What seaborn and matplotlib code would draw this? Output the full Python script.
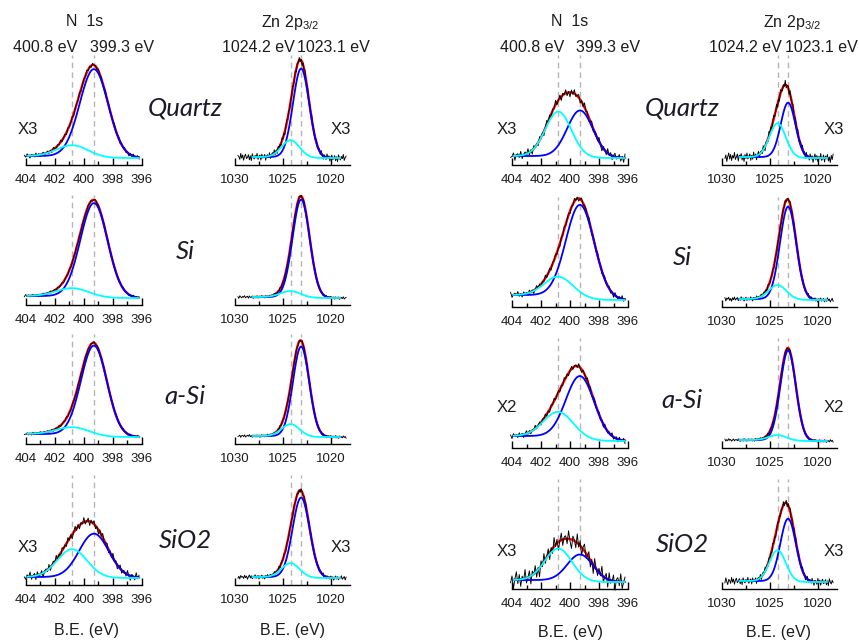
import numpy as np
import pandas as pd
import matplotlib
matplotlib.use("Agg")
import matplotlib.pyplot as plt
import matplotlib.ticker as mticker
import seaborn as sns

sns.set_theme(style="white")
plt.rcParams["font.family"] = ["Liberation Sans", "DejaVu Sans"]
plt.rcParams["mathtext.default"] = "regular"

# ---------------- data ----------------
samples = ["Quartz", "Si", "a-Si", "SiO2"]
n1s_centers = [400.8, 399.3]          # cyan, blue
zn_centers = [1024.2, 1023.1]         # cyan, blue
n1s_ticks = [404, 402, 400, 398, 396]
zn_ticks = [1030, 1025, 1020]

# block A (left)
nA_cyan_h = [11, 8, 7, 28]
nA_blue_h = [88, 94, 90, 44]
nA_cyan_w = [2.5, 2.6, 2.6, 2.4]
nA_blue_w = [2.3, 2.2, 2.1, 2.4]
nA_step = [2, 2, 3, 1]
nA_noise = [2.5, 1.5, 1.5, 5.0]
zA_cyan_h = [17, 6, 12, 14]
zA_blue_h = [89, 98, 90, 80]
zA_cyan_w = [2.2, 2.5, 2.2, 2.2]
zA_blue_w = [2.0, 2.1, 2.0, 2.1]
zA_noise = [4.0, 1.5, 1.5, 2.5]
mult_A_n = ["X3", "", "", "X3"]
mult_A_z = ["X3", "", "", "X3"]

# block B (right)
nB_cyan_h = [45, 19, 25, 32]
nB_blue_h = [47, 93, 63, 27]
nB_cyan_w = [2.1, 2.3, 2.4, 2.2]
nB_blue_w = [2.1, 2.3, 2.3, 2.1]
nB_step = [2, 5, 5, 2]
nB_noise = [5.0, 3.5, 3.5, 10.0]
zB_cyan_h = [34, 14, 5, 31]
zB_blue_h = [55, 93, 90, 63]
zB_cyan_w = [2.0, 2.2, 2.2, 2.0]
zB_blue_w = [1.8, 2.0, 1.9, 1.9]
zB_noise = [5.0, 2.5, 1.5, 4.0]
mult_B_n = ["X3", "", "X2", "X3"]
mult_B_z = ["X3", "", "X2", "X3"]

# measured residuals (typed, shared across panels)
RES = [0.3, -0.5, 0.8, -0.2, -0.9, 0.4, 0.1, -0.6, 0.9, -0.3, 0.5, -0.8, 0.2, 0.7, -0.4,
       -0.1, 0.6, -0.7, 0.3, -0.9, 0.8, 0.0, -0.5, 0.4, -0.2, 0.9, -0.6, 0.1, 0.5, -0.8,
       0.7, -0.3, -0.1, 0.6, -0.9, 0.2, 0.4, -0.4, 0.8, -0.7, 0.0, 0.5, -0.2, 0.9, -0.5,
       0.3, -0.8, 0.6, -0.1, 0.2, -0.6, 0.7, -0.3, 0.4, -0.9, 0.1, 0.8, -0.4, 0.5, -0.7,
       0.3, -0.2, 0.9, -0.5, 0.0, 0.6, -0.8, 0.4, -0.1, 0.7, -0.6, 0.2, -0.9, 0.5, -0.3,
       0.8, -0.4, 0.1, 0.6, -0.7, 0.3, -0.5, 0.9, -0.2, 0.4, -0.8, 0.0, 0.7, -0.6, 0.2]

# ---------------- layout ----------------
W, H = 859, 641
fig = plt.figure(figsize=(W / 100, H / 100), dpi=100)
TXT = "#1c1c1c"


def fx(px):
    return px / W


def fy(py):
    return 1 - py / H


def gauss(x, c, h, w):
    return h * np.exp(-4 * np.log(2) * ((x - c) / w) ** 2)


def draw_panel(ax, kind, heights, widths, step, noise, off):
    if kind == "n":
        xd = np.round(np.arange(404.1, 396.15, -0.1), 2)
        fit_lo, fit_hi = 396.0, 403.9
        centers = n1s_centers
        ax.set_xlim(404, 396)
        ax.set_xticks(n1s_ticks)
        ax.xaxis.set_minor_locator(mticker.MultipleLocator(1))
    else:
        xd = np.round(np.arange(1029.7, 1018.35, -0.1), 2)
        fit_lo, fit_hi = 1019.0, 1028.2
        centers = zn_centers
        ax.set_xlim(1030, 1018)
        ax.set_xticks(zn_ticks)
        ax.xaxis.set_minor_locator(mticker.MultipleLocator(2.5))
    g1 = gauss(xd, centers[0], heights[0], widths[0])
    g2 = gauss(xd, centers[1], heights[1], widths[1])
    tot = g1 + g2
    cum = np.cumsum(tot[::-1])[::-1]
    bg = step * cum / cum.max()
    res = np.array([RES[(off + i) % len(RES)] for i in range(len(xd))])
    data = bg + tot + noise * res
    m = (xd >= fit_lo) & (xd <= fit_hi)
    df = pd.DataFrame({"x": xd, "data": data, "fit": bg + tot,
                       "cyan": bg + g1, "blue": bg + g2})
    dff = df[m]
    for c in centers:
        ax.axvline(c, color="#b5b5b5", lw=1.0, ls=(0, (4, 3)), zorder=0)
    sns.lineplot(data=dff, x="x", y="fit", ax=ax, color="#ff0000", lw=1.7,
                 estimator=None, sort=False, zorder=2)
    sns.lineplot(data=df, x="x", y="data", ax=ax, color="black", lw=0.65,
                 estimator=None, sort=False, zorder=3)
    sns.lineplot(data=dff, x="x", y="blue", ax=ax, color="#0000ff", lw=1.3,
                 estimator=None, sort=False, zorder=4)
    sns.lineplot(data=dff, x="x", y="cyan", ax=ax, color="#00ffff", lw=1.3,
                 estimator=None, sort=False, zorder=4)
    for ln in ax.lines:
        ln.set_clip_on(False)
    ax.set_ylim(-7, 103)
    ax.set_yticks([])
    ax.set_xlabel("")
    ax.set_ylabel("")
    for s in ["left", "right", "top"]:
        ax.spines[s].set_visible(False)
    ax.spines["bottom"].set_color("black")
    ax.spines["bottom"].set_linewidth(1.0)
    ax.patch.set_alpha(0)
    ax.tick_params(axis="x", which="major", direction="in", length=5, width=1,
                   color="black", labelsize=9.5, pad=6.5, bottom=True, labelcolor=TXT)
    ax.tick_params(axis="x", which="minor", direction="in", length=3, width=1,
                   color="black", bottom=True)


blocks = [
    dict(nx=(25.7, 142), zx=(235, 350), axis_y=[165, 305, 444, 585],
         nch=nA_cyan_h, nbh=nA_blue_h, ncw=nA_cyan_w, nbw=nA_blue_w, nst=nA_step,
         nno=nA_noise, zch=zA_cyan_h, zbh=zA_blue_h, zcw=zA_cyan_w, zbw=zA_blue_w,
         zno=zA_noise),
    dict(nx=(512, 628), zx=(722, 837), axis_y=[165, 307, 448, 589],
         nch=nB_cyan_h, nbh=nB_blue_h, ncw=nB_cyan_w, nbw=nB_blue_w, nst=nB_step,
         nno=nB_noise, zch=zB_cyan_h, zbh=zB_blue_h, zcw=zB_cyan_w, zbw=zB_blue_w,
         zno=zB_noise),
]

AX_H = 110
for bi, b in enumerate(blocks):
    for r in range(4):
        ay = b["axis_y"][r]
        axn = fig.add_axes([fx(b["nx"][0]), fy(ay), fx(b["nx"][1] - b["nx"][0]), AX_H / H])
        draw_panel(axn, "n", (b["nch"][r], b["nbh"][r]), (b["ncw"][r], b["nbw"][r]),
                   b["nst"][r], b["nno"][r], off=7 * r + 31 * bi)
        axz = fig.add_axes([fx(b["zx"][0]), fy(ay), fx(b["zx"][1] - b["zx"][0]), AX_H / H])
        draw_panel(axz, "z", (b["zch"][r], b["zbh"][r]), (b["zcw"][r], b["zbw"][r]),
                   1, b["zno"][r], off=13 * r + 47 * bi + 5)

# ---------------- texts ----------------
hdr = 11.5
for ncx, zcx in [(85, 290), (570, 792)]:
    fig.text(fx(ncx), fy(22), "N  1s", ha="center", va="center", fontsize=hdr, color=TXT)
    fig.text(fx(zcx), fy(22), "Zn 2p$_{3/2}$", ha="center", va="center", fontsize=hdr, color=TXT)
for x1, x2, x3, x4 in [(45, 122, 258, 333), (532, 608, 745, 821)]:
    fig.text(fx(x1), fy(47), "400.8 eV", ha="center", va="center", fontsize=hdr, color=TXT)
    fig.text(fx(x2), fy(47), "399.3 eV", ha="center", va="center", fontsize=hdr, color=TXT)
    fig.text(fx(x3), fy(47), "1024.2 eV", ha="center", va="center", fontsize=hdr, color=TXT)
    fig.text(fx(x4), fy(47), "1023.1 eV", ha="center", va="center", fontsize=hdr, color=TXT)

sample_y = [[108, 252, 397, 540], [108, 258, 400, 545]]
sample_x = [185, 682]
for bi in range(2):
    for r, s in enumerate(samples):
        fig.text(fx(sample_x[bi]), fy(sample_y[bi][r]), s, ha="center", va="center",
                 fontsize=18.5, fontstyle="italic", family=["Lato", "DejaVu Sans"],
                 color="#1a1a28")

mult_pos = [
    (mult_A_n, 28, mult_A_z, 341, [130, 0, 0, 548]),
    (mult_B_n, 507, mult_B_z, 834, [130, 0, 407, 551]),
]
for mn, xn, mz, xz, ys in mult_pos:
    for r in range(4):
        if mn[r]:
            fig.text(fx(xn), fy(ys[r]), mn[r], ha="center", va="center", fontsize=12, color=TXT)
        if mz[r]:
            fig.text(fx(xz), fy(ys[r]), mz[r], ha="center", va="center", fontsize=12, color=TXT)

for xc, yc in [(86, 630), (292, 630), (570, 632), (779, 632)]:
    fig.text(fx(xc), fy(yc), "B.E. (eV)", ha="center", va="center", fontsize=hdr, color=TXT)

fig.savefig("out.png", dpi=100, facecolor="white")
